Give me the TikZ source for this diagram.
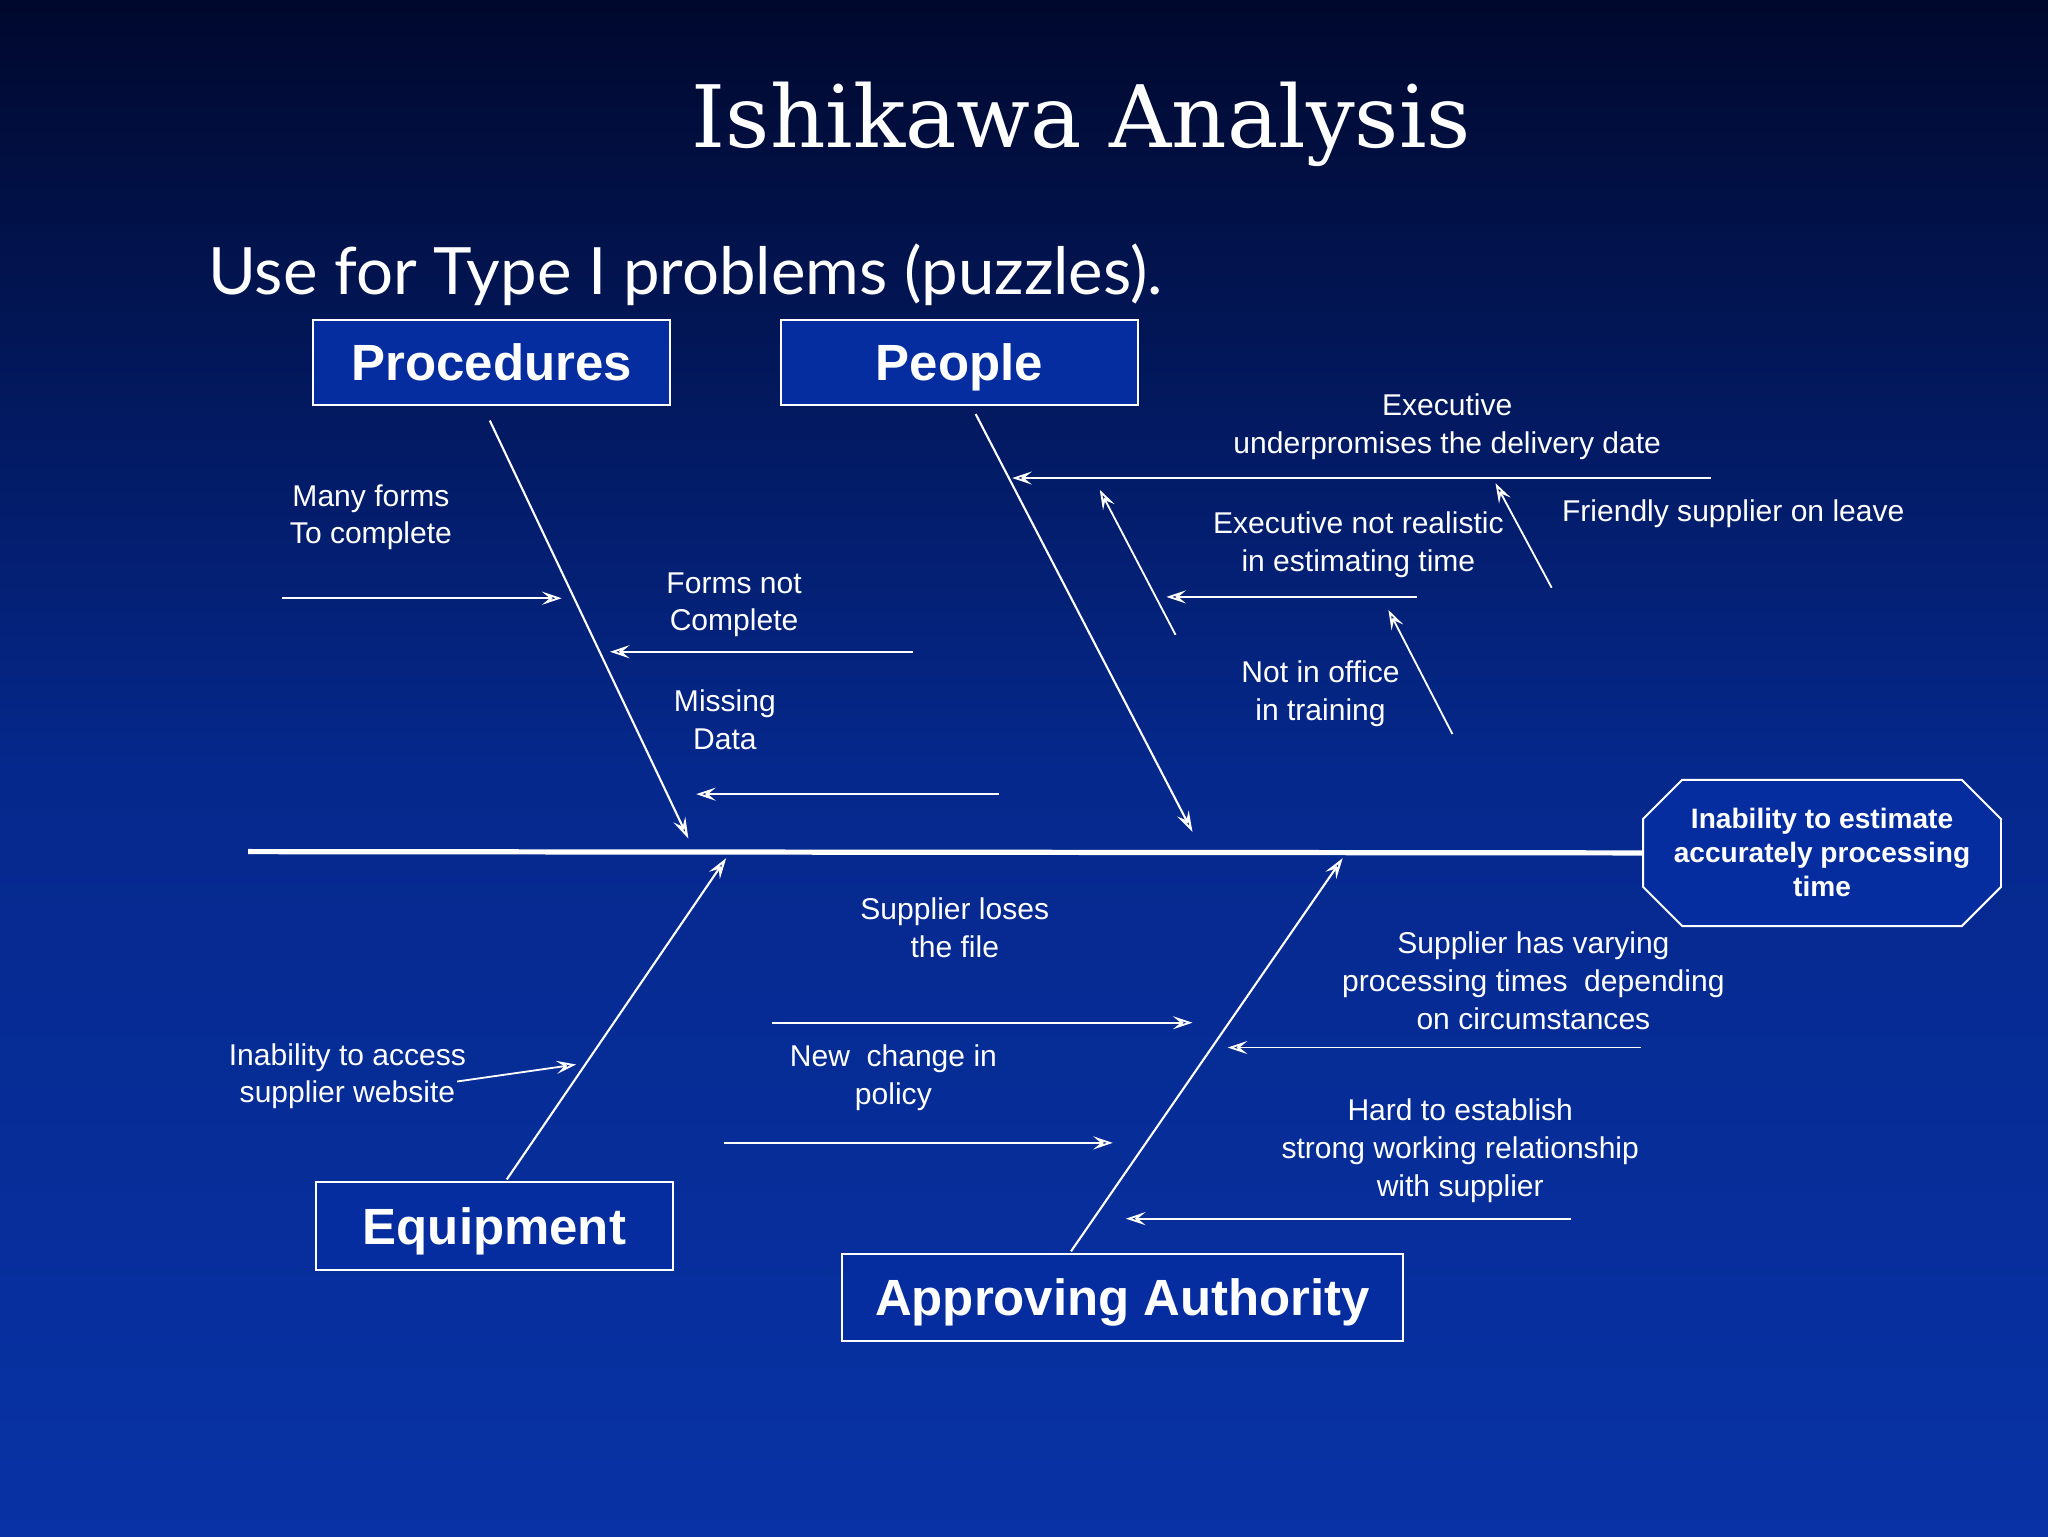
\documentclass[tikz,border=0pt]{standalone}
\usepackage{fontspec}
\setmainfont{Liberation Sans}
\newfontfamily\titlefont{DejaVu Serif}
\newfontfamily\subfont{Lato}
\usetikzlibrary{arrows.meta,shapes.misc}
\begin{document}
\begin{tikzpicture}[x=1pt,y=-1pt,
  bone/.style={white,line width=1.6pt,-{Stealth[length=16pt,width=10pt,inset=6pt,open]}},
  arr/.style={white,line width=1.4pt,-{Stealth[length=15pt,width=10pt,inset=6pt,open]}},
  cat/.style={draw=white,line width=1.5pt,fill={rgb,255:red,5;green,45;blue,160},text=white,font=\fontsize{39}{42}\selectfont\bfseries,inner sep=0pt,text height=28pt,text depth=0pt},
  lbl/.style={text=white,font=\fontsize{23}{29}\selectfont,align=center}]
\shade[top color={rgb,255:red,0;green,8;blue,45},bottom color={rgb,255:red,8;green,50;blue,165},middle color={rgb,255:red,5;green,40;blue,140}] (0,0) rectangle (1568,1176);
\useasboundingbox (0,0) rectangle (1568,1176);
\node[text=white,font=\titlefont\fontsize{66}{70}\selectfont] (title) at (828,95) {Ishikawa Analysis};
\node[text=white,anchor=west,font=\subfont\fontsize{50}{56}\selectfont] (sub) at (156,210) {Use for Type I problems (puzzles).};
\node[cat,minimum width=273pt,minimum height=65pt] (proc) at (376.5,277.5) {Procedures};
\node[cat,minimum width=273pt,minimum height=65pt] (peop) at (734.5,277.5) {People};
\node[cat,minimum width=273pt,minimum height=67pt] (equi) at (378.5,938.5) {Equipment};
\node[cat,minimum width=429pt,minimum height=67pt] (appr) at (859.5,993.5) {Approving Authority};
\node[draw=white,line width=1.5pt,fill={rgb,255:red,5;green,45;blue,160},chamfered rectangle,chamfered rectangle xsep=10pt,chamfered rectangle ysep=20pt,minimum width=274pt,minimum height=112pt,inner sep=0pt,text=white,align=center,font=\fontsize{21.5}{26}\selectfont\bfseries] (eff) at (1395,653) {Inability to estimate\\accurately processing\\time};
\coordinate (s0) at (190,652);
\draw[white,line width=4pt] (s0) -- (eff.west);
% bones
\coordinate (p1) at (375,322); \coordinate (p2) at (527,642);
\draw[bone] (p1) -- (p2);
\coordinate (q1) at (747,317); \coordinate (q2) at (913,637);
\draw[bone] (q1) -- (q2);
\coordinate (e1) at (388,903); \coordinate (e2) at (556,657);
\draw[bone] (e1) -- (e2);
\coordinate (a1) at (820,958); \coordinate (a2) at (1028,657);
\draw[bone] (a1) -- (a2);
% small arrows
\foreach \n/\xa/\ya/\xb/\yb in {c1/216/458/430/458, c2/699/499/467/499, c3/765/608/533/608,
  c4/1310/366/775/366, c5/900/486/842/375, c6/1085/457/893/457, c7/1188/450/1145/370,
  c8/1112/562/1063/467, c9/591/783/913/783, c10/554/875/852/875, c11/1256/802/940/802,
  c12/1203/933/862/933, c13/350/828/441/815}
{\coordinate (\n a) at (\xa,\ya); \coordinate (\n b) at (\xb,\yb); \draw[arr] (\n a) -- (\n b);}
% labels
\node[lbl] (l1) at (284,396) {Many forms\\To complete};
\node[lbl] (l2) at (562,463) {Forms not\\ Complete};
\node[lbl] (l3) at (555,551) {Missing\\ Data};
\node[lbl] (l4) at (1108,327) {Executive\\underpromises the delivery date};
\node[lbl] (l5) at (1040,417) {Executive not realistic\\in estimating time};
\node[lbl] (l6) at (1327,393) {Friendly supplier on leave};
\node[lbl] (l7) at (1011,531) {Not in office\\in training};
\node[lbl] (l8) at (731,710) {Supplier loses\\ the file};
\node[lbl] (l9) at (1174,751) {Supplier has varying\\processing times\ \ depending\\on circumstances};
\node[lbl] (l10) at (266,824) {Inability to access\\supplier website};
\node[lbl] (l11) at (684,825) {New\ \ change in\\policy};
\node[lbl] (l12) at (1118,881) {Hard to establish\\strong working relationship\\with supplier};
\end{tikzpicture}
\end{document}
